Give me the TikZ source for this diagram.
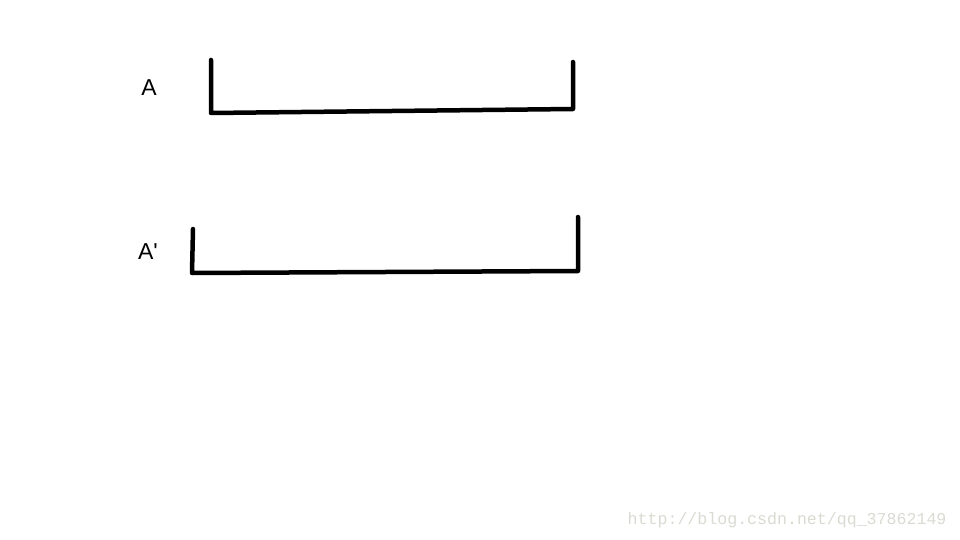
\documentclass[tikz,border=0pt]{standalone}
\usepackage{fontspec}
\setmainfont{Liberation Sans}[Ligatures=TeXOff]
\newfontfamily\markfont{Liberation Mono}
\definecolor{markgray}{RGB}{218,218,210}
\begin{document}
\begin{tikzpicture}[x=1pt,y=-1pt,
    bracket/.style={line width=4.5pt,line cap=round,line join=round}]
        \useasboundingbox (0,0) rectangle (960,540);
        \node (labA) at (149,88) {\fontsize{23}{25}\selectfont A};
        \node (labB) at (148,252) {\fontsize{23}{25}\selectfont A'};
        \draw[bracket] (211,60) -- (211,113) -- (573,109) -- (573,62);
        \draw[bracket] (193,229) -- (192,273) -- (578,271) -- (578,217);
        \node[markgray,anchor=east] (mark) at (950,520) {\markfont\fontsize{16.6}{18}\selectfont http://blog.csdn.net/qq\_37862149};
    \end{tikzpicture}
\end{document}
